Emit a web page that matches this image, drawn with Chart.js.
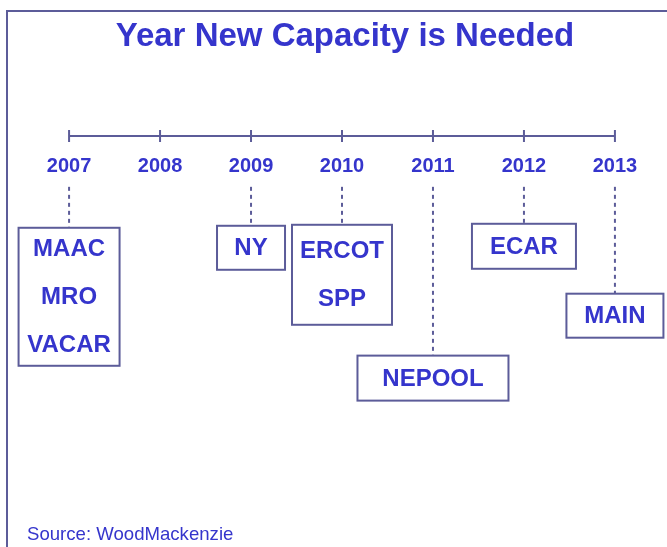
<!DOCTYPE html>
<html>
<head>
<meta charset="utf-8">
<script src="https://cdn.jsdelivr.net/npm/chart.js@4/dist/chart.umd.min.js"></script>
<style>
  html, body { margin: 0; padding: 0; background: #fff; }
  #wrap { position: relative; width: 667px; height: 547px; }
</style>
</head>
<body>
<div id="wrap"><canvas id="myChart" width="667" height="547"></canvas></div>
<script>
// timeline data
const years = [2007, 2008, 2009, 2010, 2011, 2012, 2013];
const groupYears = [2007, 2009, 2010, 2011, 2012, 2013];
const groupRegions = [
  ['MAAC', 'MRO', 'VACAR'],
  ['NY'],
  ['ERCOT', 'SPP'],
  ['NEPOOL'],
  ['ECAR'],
  ['MAIN'],
];

// layout only (pixels below the timeline / box sizes)
const boxDrop = [92, 90, 89, 220, 88, 158];
const boxWidth = [101, 68, 100, 151, 104, 97];
const boxHeight = [138, 44, 100, 45, 45, 44];
const connectorStart = 51;

const textColor = '#3535cc';
const lineColor = '#5c5c99';
const fontFamily = '"Liberation Sans", Arial, sans-serif';

const frame = {
  id: 'frame',
  beforeDraw(chart) {
    const ctx = chart.ctx;
    ctx.save();
    ctx.fillStyle = '#fff';
    ctx.fillRect(0, 0, chart.width, chart.height);
    ctx.strokeStyle = lineColor;
    ctx.lineWidth = 2;
    ctx.beginPath();
    ctx.moveTo(7, chart.height);
    ctx.lineTo(7, 11);
    ctx.lineTo(chart.width, 11);
    ctx.stroke();
    ctx.restore();
  },
};

const boxes = {
  id: 'boxes',
  afterDraw(chart) {
    const ctx = chart.ctx;
    const xs = chart.scales.x;
    const ys = chart.scales.y;
    ctx.save();
    groupYears.forEach((yr, i) => {
      const cx = xs.getPixelForValue(yr);
      const top = ys.getPixelForValue(-boxDrop[i]);
      const w = boxWidth[i];
      const h = boxHeight[i];
      ctx.fillStyle = '#fff';
      ctx.fillRect(cx - w / 2, top, w, h);
      ctx.strokeStyle = lineColor;
      ctx.lineWidth = 2;
      ctx.strokeRect(cx - w / 2, top, w, h);
      const names = groupRegions[i];
      ctx.fillStyle = textColor;
      ctx.font = 'bold 24px ' + fontFamily;
      ctx.textAlign = 'center';
      ctx.textBaseline = 'middle';
      const mid = top + h / 2 + 1;
      names.forEach((n, j) => {
        ctx.fillText(n, cx, mid + (j - (names.length - 1) / 2) * 48);
      });
    });
    ctx.restore();
  },
};

const datasets = [
  {
    data: years.map(y => ({ x: y, y: 0 })),
    borderColor: lineColor,
    borderWidth: 2,
    pointStyle: 'line',
    rotation: 90,
    pointRadius: 6,
    pointBorderWidth: 2,
    pointBorderColor: lineColor,
  },
];
groupYears.forEach((yr, i) => {
  datasets.push({
    data: [
      { x: yr, y: -connectorStart },
      { x: yr, y: -boxDrop[i] },
    ],
    borderColor: lineColor,
    borderWidth: 2,
    borderDash: [4, 4],
    pointRadius: 0,
  });
});

const ctx = document.getElementById('myChart').getContext('2d');
const myChart = new Chart(ctx, {
  type: 'line',
  data: { datasets: datasets },
  plugins: [frame, boxes],
  options: {
    responsive: false,
    animation: false,
    layout: { padding: { left: 27, right: 4, top: 0, bottom: 0 } },
    scales: {
      x: {
        type: 'linear',
        min: 2006.5376,
        max: 2013.4844,
        position: { y: 0 },
        afterBuildTicks: axis => {
          axis.ticks = years.map(v => ({ value: v }));
        },
        grid: { display: false, drawTicks: false },
        border: { display: false },
        ticks: {
          color: textColor,
          font: { family: fontFamily, size: 20, weight: 'bold' },
          padding: 19,
          maxRotation: 0,
          autoSkip: false,
          callback: v => String(v),
        },
      },
      y: {
        type: 'linear',
        display: false,
        min: -390,
        max: 83,
      },
    },
    plugins: {
      legend: { display: false },
      tooltip: { enabled: false },
      title: {
        display: true,
        text: 'Year New Capacity is Needed',
        color: textColor,
        font: { family: fontFamily, size: 33, weight: 'bold', lineHeight: 1 },
        padding: { top: 20, bottom: 0 },
      },
      subtitle: {
        display: true,
        position: 'bottom',
        align: 'start',
        text: 'Source: WoodMackenzie',
        color: textColor,
        font: { family: fontFamily, size: 18.6, weight: 'normal', lineHeight: 1 },
        padding: { top: 0, bottom: 3 },
      },
    },
  },
});
</script>
</body>
</html>
